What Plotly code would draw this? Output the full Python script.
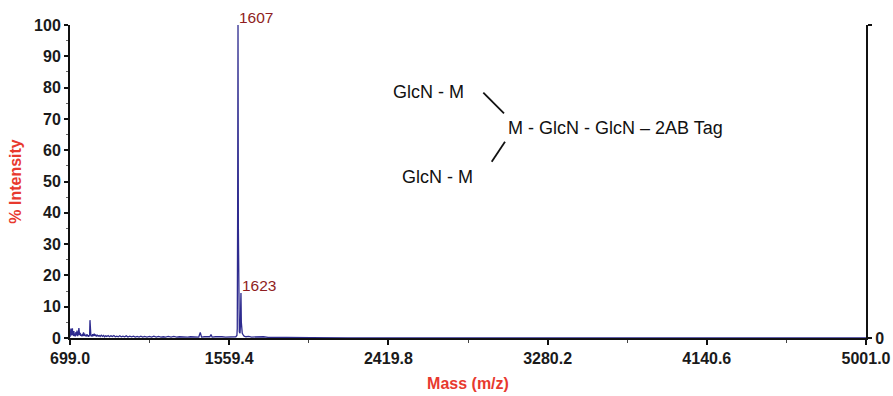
import plotly.graph_objects as go

# ---- data ----
mass = [699, 700, 702, 704, 706, 708, 710, 712, 714, 716, 718, 720, 722, 725, 728, 731, 734, 737, 740, 744,
        747, 749, 751, 754, 757, 760, 763, 766, 769, 772, 775, 778, 781, 785, 788, 791, 794, 797, 800, 803,
        805, 807, 809, 812, 815, 818, 822, 826, 830, 834, 838, 842, 847, 852, 857, 862, 868, 874, 880, 886,
        892, 898, 905, 912, 920, 928, 936, 944, 952, 960, 968, 976, 985, 994, 1003, 1012, 1022, 1032, 1042, 1052,
        1062, 1072, 1082, 1092, 1102, 1115, 1128, 1140, 1152, 1165, 1178, 1190, 1203, 1216, 1230, 1245, 1260, 1275, 1290, 1305,
        1320, 1335, 1350, 1365, 1380, 1395, 1403, 1410, 1425, 1440, 1455, 1461, 1467, 1485, 1500, 1520, 1540, 1560, 1580, 1595,
        1601, 1603, 1605, 1607, 1609, 1611, 1614, 1618, 1620, 1622, 1623, 1625, 1627, 1630, 1635, 1640, 1650, 1665, 1680, 1700,
        1720, 1745, 1770, 1800, 1830, 1870, 1920, 2000, 2200, 2600, 5001]
intensity = [0.3, 2.8, 1.0, 3.0, 0.8, 2.6, 1.2, 3.1, 0.9, 1.8, 0.7, 2.2, 0.6, 1.4, 0.5, 1.9, 0.8, 2.4, 0.6, 1.2,
             3.2, 2.6, 0.9, 1.6, 0.7, 1.1, 0.5, 1.3, 0.6, 1.8, 0.7, 1.4, 0.6, 1.0, 0.5, 1.2, 0.6, 0.9, 0.4, 0.8,
             1.0, 5.7, 0.9, 0.6, 1.0, 0.5, 1.2, 0.6, 1.4, 0.7, 1.1, 0.5, 0.9, 0.6, 0.8, 0.5, 0.9, 0.5, 0.8, 0.4,
             0.7, 0.5, 0.8, 0.4, 0.7, 0.5, 0.8, 0.4, 0.6, 0.4, 0.7, 0.4, 0.6, 0.4, 0.7, 0.3, 0.6, 0.4, 0.6, 0.3,
             0.5, 0.3, 0.6, 0.3, 0.5, 0.3, 0.5, 0.3, 0.6, 0.3, 0.5, 0.3, 0.4, 0.3, 0.5, 0.3, 0.5, 0.3, 0.4, 0.3,
             0.4, 0.3, 0.4, 0.3, 0.4, 0.3, 1.8, 0.3, 0.4, 0.3, 0.4, 1.1, 0.3, 0.4, 0.3, 0.4, 0.3, 0.4, 0.3, 0.4,
             0.8, 3.0, 40.0, 100.0, 35.0, 4.0, 2.0, 1.5, 4.0, 12.0, 14.4, 5.0, 2.5, 1.5, 1.0, 0.6, 0.4, 0.5, 0.3, 0.4,
             0.3, 0.4, 0.2, 0.3, 0.2, 0.2, 0.1, 0.1, 0.05, 0.0, 0.0]

x_ticks = [699.0, 1559.4, 2419.8, 3280.2, 4140.6, 5001.0]
y_ticks = [0, 10, 20, 30, 40, 50, 60, 70, 80, 90, 100]
peak_labels = [(1607, 100.0, "1607"), (1623, 14.4, "1623")]

structure_texts = ["GlcN - M", "M - GlcN - GlcN \u2013 2AB Tag", "GlcN - M"]

# ---- layout helpers (pixel -> data) ----
L, R, T, B = 70, 27, 25, 58
W, H = 893, 396
XMIN, XMAX = 699.0, 5001.0
YMIN, YMAX = 0, 100
def mx(px):
    return XMIN + (px - L) / (W - L - R) * (XMAX - XMIN)
def iy(py):
    return YMAX - (py - T) / (H - T - B) * (YMAX - YMIN)

LINE_COLOR = "#2e2b8f"
RED = "#e8392e"
DARKRED = "#8f1d21"
FONT = "Liberation Sans, Arial, sans-serif"

fig = go.Figure()
fig.add_trace(go.Scatter(x=mass, y=intensity, mode="lines",
                         line=dict(color=LINE_COLOR, width=1.3), hoverinfo="skip", showlegend=False))
# invisible trace to activate right axis
fig.add_trace(go.Scatter(x=[XMIN], y=[0], yaxis="y2", mode="markers",
                         marker=dict(opacity=0), showlegend=False, hoverinfo="skip"))

annotations = []
for xm, yv, txt in peak_labels:
    annotations.append(dict(x=xm, y=yv, xref="x", yref="y", text=txt, showarrow=False,
                            xanchor="left", yanchor="bottom", xshift=-1, yshift=-3,
                            font=dict(family=FONT, size=15.5, color=DARKRED)))

struct_pos = [(391, 91.5), (506, 127.5), (400, 176.5)]
for (px, py), txt in zip(struct_pos, structure_texts):
    annotations.append(dict(x=mx(px), y=iy(py), xref="x", yref="y", text=txt, showarrow=False,
                            xanchor="left", yanchor="middle",
                            font=dict(family=FONT, size=18, color="#111111")))

shapes = [
    dict(type="line", xref="x", yref="y", x0=mx(483.3), y0=iy(92.7), x1=mx(504), y1=iy(113.3),
         line=dict(color="#111111", width=1.8)),
    dict(type="line", xref="x", yref="y", x0=mx(505), y0=iy(141.7), x1=mx(491.7), y1=iy(161.7),
         line=dict(color="#111111", width=1.8)),
]

tickfont = dict(family=FONT, size=16, color="#1a1a1a", weight="bold")

fig.update_layout(
    width=W, height=H,
    margin=dict(l=L, r=R, t=T, b=B, pad=0, autoexpand=False),
    paper_bgcolor="white", plot_bgcolor="white",
    showlegend=False,
    annotations=annotations,
    shapes=shapes,
    xaxis=dict(range=[XMIN, XMAX], tickvals=x_ticks, ticktext=[f"{v:.1f}" for v in x_ticks],
               automargin=False,
               showgrid=False, zeroline=False, showline=True, linecolor="#111111", linewidth=2,
               ticks="outside", ticklen=5, tickwidth=1.5, tickcolor="#111111",
               minor=dict(tickvals=[(a + b) / 2 for a, b in zip(x_ticks[:-1], x_ticks[1:])],
                          ticks="outside", ticklen=3, tickwidth=1, tickcolor="#444444"),
               tickfont=tickfont,
               title=dict(text="Mass (m/z)", standoff=12,
                          font=dict(family=FONT, size=16, color=RED, weight="bold"))),
    yaxis=dict(range=[YMIN, YMAX], tickvals=y_ticks, automargin=False,
               showgrid=False, zeroline=False, showline=True, linecolor="#111111", linewidth=2,
               ticks="outside", ticklen=4, tickwidth=1.5, tickcolor="#111111",
               minor=dict(dtick=5, ticks="outside", ticklen=2, tickwidth=1, tickcolor="#666666"),
               tickfont=tickfont,
               title=dict(text="% Intensity", standoff=8,
                          font=dict(family=FONT, size=16, color=RED, weight="bold"))),
    yaxis2=dict(range=[YMIN, YMAX], overlaying="y", side="right", anchor="x", automargin=False,
                tickvals=[0, 100], ticktext=["0", ""],
                showgrid=False, zeroline=False, showline=True, linecolor="#111111", linewidth=2,
                ticks="outside", ticklen=4, tickwidth=1.5, tickcolor="#111111",
                tickfont=tickfont),
)

fig.write_html("out.html")
